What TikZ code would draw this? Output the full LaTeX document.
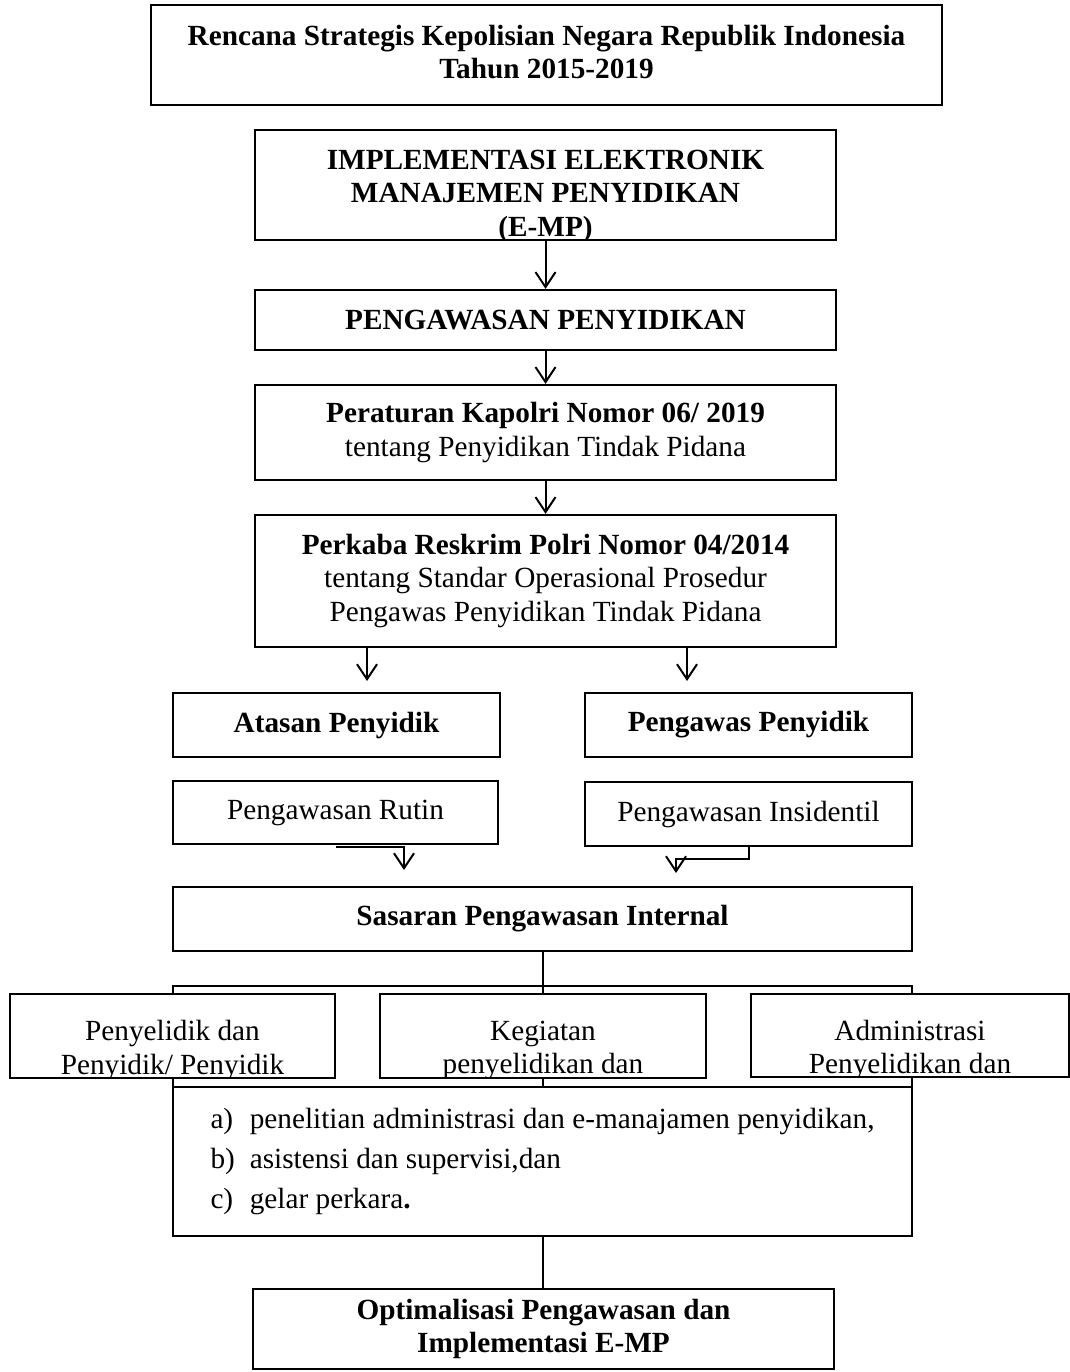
\documentclass[tikz,border=0pt]{standalone}
\usepackage{fontspec}
\setmainfont{Liberation Serif}
\usetikzlibrary{arrows.meta}

\tikzset{
  kotak/.style={draw, line width=0.9pt, inner sep=0pt, fill=white},
  ukuran/.style 2 args={minimum width=#1*0.4pt, minimum height=#2*0.4pt},
  teks/.style={font=\fontsize{11.7}{13.4}\selectfont, align=center},
  tebal/.style={font=\fontsize{11.7}{13.4}\selectfont\bfseries, align=center},
  garis/.style={line width=0.8pt},
  panah/.style={line width=0.8pt, -{Straight Barb[length=6pt,width=8pt]}}
}

\begin{document}
\begin{tikzpicture}[x=0.4pt, y=-0.4pt]
  \useasboundingbox (0,0) rectangle (1070,1372);

  % --- Kolom utama ---
  \node[kotak, ukuran={791}{100},
    path picture={\node[tebal] at ([yshift=1.2pt]path picture bounding box.center)
      {Rencana Strategis Kepolisian Negara Republik Indonesia\\Tahun 2015-2019};}] (renstra) at (546.5,55) {};
  \node[kotak, ukuran={581}{110},
    path picture={\node[tebal] at ([yshift=-4.4pt]path picture bounding box.center)
      {IMPLEMENTASI ELEKTRONIK\\MANAJEMEN PENYIDIKAN\\(E-MP)};}] (emp) at (545.5,185) {};
  \node[kotak, tebal, ukuran={581}{60}] (peng) at (545.5,320) {PENGAWASAN PENYIDIKAN};
  \node[kotak, teks, ukuran={581}{95}] (perkap) at (545.5,432.5)
    {\textbf{Peraturan Kapolri Nomor 06/ 2019}\\tentang Penyidikan Tindak Pidana};
  \node[kotak, teks, ukuran={581}{132}] (perkaba) at (545.5,581)
    {\textbf{Perkaba Reskrim Polri Nomor 04/2014}\\tentang Standar Operasional Prosedur\\Pengawas Penyidikan Tindak Pidana};

  \draw[panah] (emp.south) -- (emp.south |- peng.north);
  \draw[panah] (peng.south) -- (peng.south |- perkap.north);
  \draw[panah] (perkap.south) -- (perkap.south |- perkaba.north);

  % --- Dua cabang ---
  \node[kotak, tebal, ukuran={327}{64}] (atasan) at (336.5,725) {Atasan Penyidik};
  \node[kotak, tebal, ukuran={327}{64}] (pengawas) at (748.5,725) {Pengawas Penyidik};
  \node[kotak, teks, ukuran={325}{63}] (rutin) at (335.5,812.5) {Pengawasan Rutin};
  \node[kotak, teks, ukuran={327}{64}] (insid) at (748.5,814) {Pengawasan Insidentil};

  \coordinate (ka) at (367,681);
  \coordinate (kb) at (687,681);
  \draw[panah] (ka |- perkaba.south) -- (ka);
  \draw[panah] (kb |- perkaba.south) -- (kb);

  \coordinate (ru) at (404,870);
  \coordinate (in) at (676,873);
  \draw[panah] ([yshift=-0.6pt]rutin.south) -| (ru);
  \draw[panah] (insid.south) -- ++(0,12) -| (in);

  % --- Sasaran ---
  \node[kotak, tebal, ukuran={739}{64}] (sasaran) at (542.5,919) {Sasaran Pengawasan Internal};
  \node[kotak, ukuran={739}{101}] (wadah) at (542.5,1036.5) {};
  \node[kotak, teks, ukuran={739}{149}] (daftar) at (542.5,1161.5)
    {\begin{tabular}{@{}l@{\hspace{6pt}}l@{}}
      a) & penelitian administrasi dan e-manajamen penyidikan,\\[2.6pt]
      b) & asistensi dan supervisi,dan\\[2.6pt]
      c) & gelar perkara\textbf{.}
    \end{tabular}};
  \draw[garis] (sasaran.south) -- (daftar.north);

  \node[kotak, ukuran={325}{84},
    path picture={\node[teks] at ([yshift=-5.8pt]path picture bounding box.center)
      {Penyelidik dan\\Penyidik/ Penyidik};}] (subjek) at (172.5,1036) {};
  \node[kotak, ukuran={326}{84},
    path picture={\node[teks] at ([yshift=-5.8pt]path picture bounding box.center)
      {Kegiatan\\penyelidikan dan};}] (kegiatan) at (543,1036) {};
  \node[kotak, ukuran={318}{83},
    path picture={\node[teks] at ([yshift=-5.8pt]path picture bounding box.center)
      {Administrasi\\Penyelidikan dan};}] (admin) at (910,1035.5) {};

  % --- Hasil ---
  \node[kotak, tebal, ukuran={581}{80}] (optimal) at (543.5,1329)
    {Optimalisasi Pengawasan dan\\Implementasi E-MP};
  \draw[garis] (daftar.south) -- (daftar.south |- optimal.north);
\end{tikzpicture}
\end{document}
